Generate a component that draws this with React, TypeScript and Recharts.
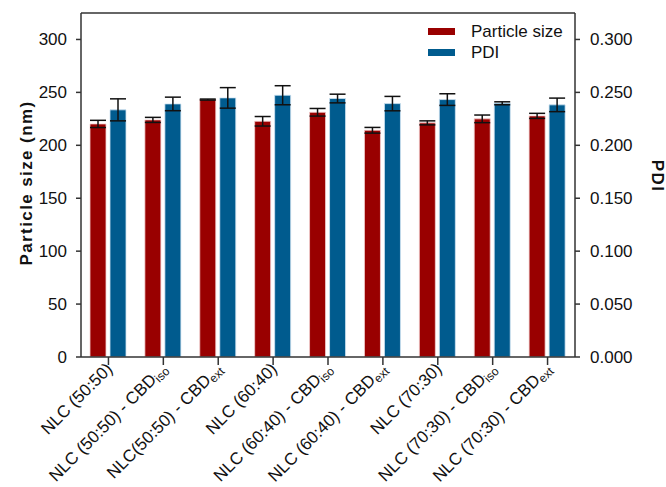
import React from 'react';
import { BarChart, Bar, XAxis, YAxis, ErrorBar, ReferenceLine } from 'recharts';

const labelBase = [
  'NLC (50:50)',
  'NLC (50:50) - CBD',
  'NLC(50:50) - CBD',
  'NLC (60:40)',
  'NLC (60:40) - CBD',
  'NLC (60:40) - CBD',
  'NLC (70:30)',
  'NLC (70:30) - CBD',
  'NLC (70:30) - CBD',
];
const labelSub = ['', 'iso', 'ext', '', 'iso', 'ext', '', 'iso', 'ext'];

const particleSize = [220.2, 224.0, 243.2, 222.7, 231.2, 214.2, 221.2, 225.0, 227.8];
const particleSizeErr = [3.4, 2.4, 0.5, 4.5, 3.6, 2.7, 1.9, 3.6, 2.4];
const pdi = [0.2335, 0.2391, 0.2448, 0.2473, 0.2442, 0.2394, 0.2432, 0.2397, 0.2382];
const pdiErr = [0.0104, 0.0064, 0.0097, 0.009, 0.0041, 0.0068, 0.0055, 0.0014, 0.0064];

const leftTicks = [0, 50, 100, 150, 200, 250, 300];
const rightTicks = [0, 0.05, 0.1, 0.15, 0.2, 0.25, 0.3];

const seriesNames = ['Particle size', 'PDI'];

const data = labelBase.map((b, i) => ({
  name: b + labelSub[i],
  size: particleSize[i],
  sizeErr: particleSizeErr[i],
  pdi: pdi[i],
  pdiErr: pdiErr[i],
}));

const FONT = '"Liberation Sans", Arial, Helvetica, sans-serif';
const RED = '#990000';
const BLUE = '#005b8e';
const AXIS = '#333333';

const XTick = (props: any) => {
  const { x, y, payload } = props;
  const idx = data.findIndex((d) => d.name === payload.value);
  const base = labelBase[idx] ?? payload.value;
  const sub = labelSub[idx] ?? '';
  return (
    <g transform={`translate(${x + 5},${y + 3})`}>
      <text
        transform="rotate(-45)"
        textAnchor="end"
        fontFamily={FONT}
        fontSize={17}
        fill="#111"
      >
        <tspan>{base}</tspan>
        {sub ? (
          <tspan fontSize={12} dy={3}>
            {sub}
          </tspan>
        ) : null}
      </text>
    </g>
  );
};

const LeftTitle = () => (
  <text
    x={26}
    y={183}
    transform="rotate(-90 26 183)"
    textAnchor="middle"
    dominantBaseline="central"
    fontFamily={FONT}
    fontSize={17}
    fontWeight="bold"
    letterSpacing={1.4}
    fill="#111"
  >
    Particle size (nm)
  </text>
);

const RightTitle = () => (
  <text
    x={657}
    y={176}
    transform="rotate(90 657 176)"
    textAnchor="middle"
    dominantBaseline="central"
    fontFamily={FONT}
    fontSize={17}
    fontWeight="bold"
    letterSpacing={1.4}
    fill="#111"
  >
    PDI
  </text>
);

const LegendBox = () => (
  <div
    style={{
      position: 'absolute',
      left: 428,
      top: 21,
      fontFamily: FONT,
      fontSize: 17,
      color: '#111',
      pointerEvents: 'none',
    }}
  >
    {[RED, BLUE].map((c, i) => (
      <div key={seriesNames[i]} style={{ display: 'flex', alignItems: 'center', height: 21 }}>
        <span style={{ display: 'inline-block', width: 27, height: 7, background: c, marginRight: 16 }} />
        <span>{seriesNames[i]}</span>
      </div>
    ))}
  </div>
);

export default function App() {
  return (
    <div style={{ position: 'absolute', left: 0, top: 0, width: 666, height: 487, background: '#fff' }}>
      <BarChart
        width={666}
        height={487}
        data={data}
        margin={{ top: 13, right: 0, bottom: 0, left: 0 }}
        barSize={16}
        barGap={4}
      >
        <XAxis
          dataKey="name"
          height={130}
          interval={0}
          tick={<XTick />}
          tickSize={8}
          axisLine={{ stroke: AXIS, strokeWidth: 1.5 }}
          tickLine={{ stroke: AXIS, strokeWidth: 1.5 }}
        />
        <YAxis
          yAxisId="left"
          width={81}
          domain={[0, 325]}
          ticks={leftTicks}
          tickSize={5}
          tickMargin={9}
          allowDataOverflow
          axisLine={{ stroke: AXIS, strokeWidth: 1.5 }}
          tickLine={{ stroke: AXIS, strokeWidth: 1.5 }}
          tick={{ fontFamily: FONT, fontSize: 17, fill: '#111' }}
          label={<LeftTitle />}
        />
        <YAxis
          yAxisId="right"
          orientation="right"
          width={91}
          domain={[0, 0.325]}
          ticks={rightTicks}
          tickSize={5}
          tickMargin={10}
          allowDataOverflow
          tickFormatter={(v: number) => v.toFixed(3)}
          axisLine={{ stroke: AXIS, strokeWidth: 1.5 }}
          tickLine={{ stroke: AXIS, strokeWidth: 1.5 }}
          tick={{ fontFamily: FONT, fontSize: 17, fill: '#111' }}
          label={<RightTitle />}
        />
        <ReferenceLine yAxisId="left" y={325} stroke={AXIS} strokeWidth={1.5} />
        <Bar
          yAxisId="left"
          dataKey="size"
          name={seriesNames[0]}
          fill={RED}
          stroke="#f4d0d0"
          strokeWidth={0.8}
          isAnimationActive={false}
        >
          <ErrorBar dataKey="sizeErr" width={8} stroke="#111" strokeWidth={1.5} direction="y" />
        </Bar>
        <Bar
          yAxisId="right"
          dataKey="pdi"
          name={seriesNames[1]}
          fill={BLUE}
          stroke="#cfe3f2"
          strokeWidth={0.8}
          isAnimationActive={false}
        >
          <ErrorBar dataKey="pdiErr" width={8} stroke="#111" strokeWidth={1.5} direction="y" />
        </Bar>
      </BarChart>
      <LegendBox />
    </div>
  );
}
